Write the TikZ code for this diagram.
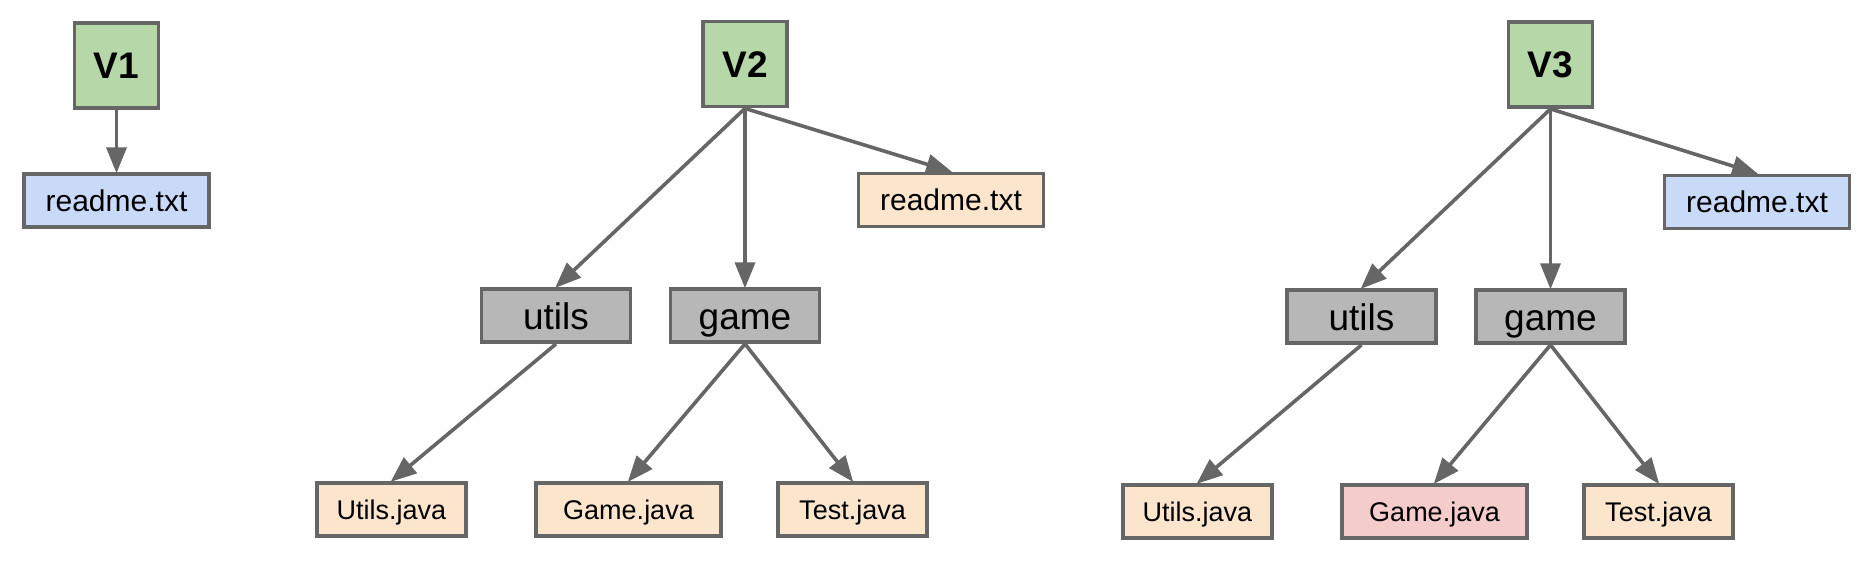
\documentclass[tikz,border=0pt]{standalone}
\usepackage{fontspec}
\setmainfont{Liberation Sans}
\usetikzlibrary{arrows.meta}
\definecolor{vgreen}{HTML}{B6D7A8}
\definecolor{fblue}{HTML}{C9DAF8}
\definecolor{forange}{HTML}{FCE5CD}
\definecolor{fgray}{HTML}{B7B7B7}
\definecolor{fpink}{HTML}{F4CCCC}
\definecolor{edgegray}{HTML}{666666}
\tikzset{
  box/.style={draw=edgegray, line width=1.9pt, inner sep=0pt, text=black, text depth=0pt},
  ver/.style={box, fill=vgreen, minimum width=42pt, minimum height=42.5pt, text height=13.3pt, font=\fontsize{18.5}{20}\selectfont\bfseries},
  readme/.style={box, minimum width=92.5pt, minimum height=26.5pt, text height=10.8pt, font=\fontsize{15}{17}\selectfont},
  folder/.style={box, fill=fgray, minimum width=74.5pt, minimum height=26.5pt, text height=13.5pt, font=\fontsize{18.5}{20}\selectfont},
  jfile/.style={box, minimum width=74.5pt, minimum height=26.5pt, text height=9.7pt, font=\fontsize{13.5}{15}\selectfont},
  wfile/.style={jfile, minimum width=92.5pt},
  conn/.style={draw=edgegray, line width=1.8pt, -{Triangle[length=13pt,width=10pt]}, shorten >=-0.6pt}
}
\begin{document}
\begin{tikzpicture}[x=0.5pt,y=-0.5pt]
\useasboundingbox (0,0) rectangle (1858,570);
% V1
\node[ver] (v1) at (116.5,65.5) {V1};
\node[readme, fill=fblue] (r1) at (116.5,200.5) {readme.txt};
\draw[conn] (v1.south) -- (r1.north);
% V2
\node[ver] (v2) at (745,64) {V2};
\node[readme, fill=forange] (r2) at (951,200) {readme.txt};
\node[folder] (u2) at (556,315.5) {utils};
\node[folder] (g2) at (745,315.5) {game};
\node[jfile, fill=forange] (uj2) at (391.5,509.5) {Utils.java};
\node[wfile, fill=forange] (gj2) at (628.5,509.5) {Game.java};
\node[jfile, fill=forange] (tj2) at (852.5,509.5) {Test.java};
\draw[conn] (v2.south) -- (u2.north);
\draw[conn] (v2.south) -- (g2.north);
\draw[conn] (v2.south) -- (r2.north);
\draw[conn] (u2.south) -- (uj2.north);
\draw[conn] (g2.south) -- (gj2.north);
\draw[conn] (g2.south) -- (tj2.north);
% V3
\node[ver] (v3) at (1550.5,64.5) {V3};
\node[readme, fill=fblue] (r3) at (1757,202) {readme.txt};
\node[folder] (u3) at (1361.5,316.5) {utils};
\node[folder] (g3) at (1550.5,316.5) {game};
\node[jfile, fill=forange] (uj3) at (1197.5,511.5) {Utils.java};
\node[wfile, fill=fpink] (gj3) at (1434.5,511.5) {Game.java};
\node[jfile, fill=forange] (tj3) at (1658.5,511.5) {Test.java};
\draw[conn] (v3.south) -- (u3.north);
\draw[conn] (v3.south) -- (g3.north);
\draw[conn] (v3.south) -- (r3.north);
\draw[conn] (u3.south) -- (uj3.north);
\draw[conn] (g3.south) -- (gj3.north);
\draw[conn] (g3.south) -- (tj3.north);
\end{tikzpicture}
\end{document}
